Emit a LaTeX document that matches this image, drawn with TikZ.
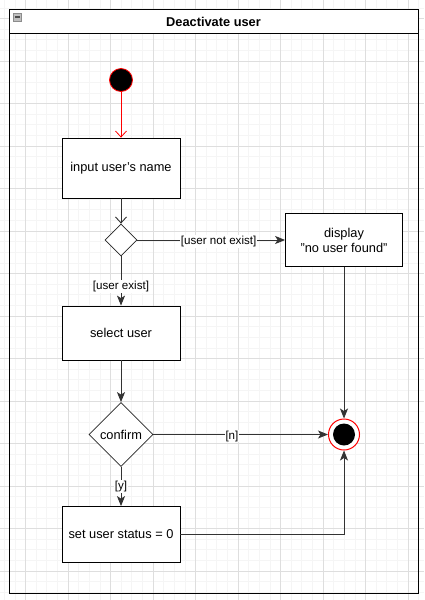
\documentclass[tikz,border=0pt]{standalone}
\usepackage{fontspec}
\setmainfont{Liberation Sans}
\usetikzlibrary{shapes.geometric,arrows.meta}
\tikzset{
  minorgrid/.style={draw=black!4, line width=0.6pt},
  majorgrid/.style={draw=black!13, line width=0.6pt},
  actbox/.style={draw=black, line width=0.8pt, fill=white, rectangle, minimum width=118pt, inner sep=2pt, font=\fontsize{12.8}{15}\selectfont, align=center},
  decis/.style={draw=black!85, line width=0.8pt, fill=white, diamond, inner sep=0pt, font=\fontsize{12.8}{15}\selectfont},
  flow/.style={draw=black!80, line width=0.9pt, -{Stealth[length=10pt,width=8pt,inset=2.5pt]}},
  openflow/.style={draw=black!80, line width=0.9pt, -{Straight Barb[length=6pt,width=11pt]}},
  guard/.style={fill=white, inner sep=1pt, yshift=-1.5pt, font=\fontsize{11.6}{13}\selectfont},
}
\begin{document}
\begin{tikzpicture}[x=1pt,y=-1pt]
\useasboundingbox (0,0) rectangle (424,600);
\fill[white] (0,0) rectangle (424,600);
% grid
\foreach \i in {0,...,41} {\draw[minorgrid] ({-6.375+\i*10.625},0) -- ({-6.375+\i*10.625},600);}
\foreach \i in {0,...,57} {\draw[minorgrid] (0,{-2.75+\i*10.625}) -- (424,{-2.75+\i*10.625});}
\foreach \i in {0,...,9} {\draw[majorgrid] ({25.5+\i*42.5},0) -- ({25.5+\i*42.5},600);}
\foreach \i in {0,...,13} {\draw[majorgrid] (0,{18.5+\i*42.5}) -- (424,{18.5+\i*42.5});}
% frame
\draw[black, line width=1pt] (9,33) rectangle (418,593);
\draw[black, line width=1pt, fill=white] (9,9.5) rectangle (418,33);
\node[font=\bfseries\fontsize{12.8}{15}\selectfont] (title) at (213.5,21.5) {Deactivate user};
\draw[black!45, fill=black!25, line width=0.6pt] (13,13) rectangle (21,21);
\fill[black!70] (14.5,16.3) rectangle (19.5,17.9);
% nodes
\node[circle, fill=black, draw=red, line width=0.8pt, minimum size=23pt, inner sep=0pt] (start) at (121,80) {};
\node[actbox, minimum height=60pt] (input) at (121,168) {input user's name};
\node[decis, minimum width=32pt, minimum height=32pt] (d1) at (121,240) {};
\node[actbox, minimum width=117pt, minimum height=53pt] (display) at (344,240) {display\\"no user found"};
\node[actbox, minimum height=54pt] (select) at (121,333) {select user};
\node[decis, minimum width=64pt, minimum height=64pt] (confirm) at (121,434.5) {confirm};
\node[actbox, minimum height=56pt] (set) at (121,534.5) {set user status = 0};
\node[circle, fill=white, draw=red, line width=1pt, minimum size=31pt, inner sep=0pt] (end) at (344,434.5) {};
\node[circle, fill=black, minimum size=22pt, inner sep=0pt] (endin) at (344,434.5) {};
% edges
\draw[draw=red, line width=0.8pt, -{Straight Barb[length=6pt,width=11pt]}] (start) -- (input);
\draw[openflow] (input) -- (d1);
\draw[flow] (d1.east) -- node[guard, pos=0.55] {[user not exist]} (display.west);
\draw[flow] (d1.south) -- node[guard, pos=0.58] {[user exist]} (select.north);
\draw[flow] (select) -- (confirm);
\draw[flow] (confirm.east) -- node[guard, pos=0.45] {[n]} (end.west);
\draw[flow] (confirm.south) -- node[guard, pos=0.47] {[y]} (set.north);
\draw[flow] (display.south) -- (end.north);
\draw[flow] (set.east) -| (end.south);
\end{tikzpicture}
\end{document}
